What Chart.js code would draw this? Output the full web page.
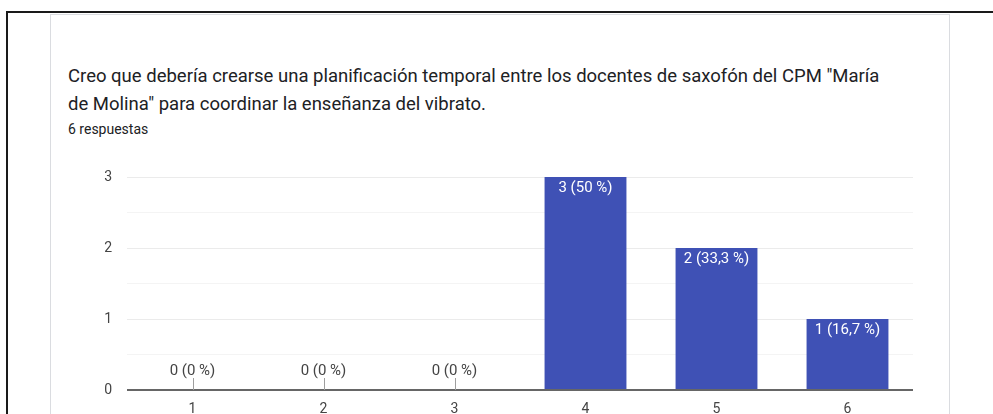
<!DOCTYPE html>
<html>
<head>
<meta charset="utf-8">
<script src="https://cdn.jsdelivr.net/npm/chart.js@4.4.1/dist/chart.umd.min.js"></script>
<style>
    html, body { margin: 0; padding: 0; background: #fff; width: 993px; height: 414px; overflow: hidden; font-family: Roboto, "Noto Sans", sans-serif; }
    .frame { position: absolute; left: 6px; top: 11px; width: 1100px; height: 500px; border-top: 2px solid #1a1a1a; border-left: 2px solid #1a1a1a; }
    .card { position: absolute; left: 50px; top: 14px; width: 898px; height: 500px; border: 1px solid #dadce0; background: #fff; }
    .title { position: absolute; left: 68px; top: 62px; font-size: 18.5px; line-height: 28px; color: #202124; white-space: nowrap; }
    .count { position: absolute; left: 68px; top: 121px; font-size: 14px; color: #202124; }
    .chart-box { position: absolute; left: 60px; top: 160px; width: 870px; height: 254px; }
</style>
</head>
<body>
<div class="frame"></div>
<div class="card"></div>
<div class="title">Creo que debería crearse una planificación temporal entre los docentes de saxofón del CPM "María<br>de Molina" para coordinar la enseñanza del vibrato.</div>
<div class="count">6 respuestas</div>
<div class="chart-box"><canvas id="vibrato-chart"></canvas></div>

<script>
    const categories = ['1', '2', '3', '4', '5', '6'];
    const answers = [0, 0, 0, 3, 2, 1];
    const yTicks = [0, 1, 2, 3];

    const total = answers.reduce((a, b) => a + b, 0);

    function pctText(v) {
        let p = total ? v / total * 100 : 0;
        let s = Number.isInteger(p) ? String(p) : p.toFixed(1).replace('.', ',');
        return v + ' (' + s + ' %)';
    }

    // value labels: white inside the bar top, or gray with a small stem for empty bars
    const barLabels = {
        id: 'barLabels',
        afterDatasetsDraw(chart) {
            const ctx = chart.ctx;
            const meta = chart.getDatasetMeta(0);
            const yScale = chart.scales.y;
            const base = yScale.getPixelForValue(0);
            ctx.save();
            ctx.font = '15px Roboto';
            ctx.textAlign = 'center';
            ctx.textBaseline = 'middle';
            meta.data.forEach((bar, i) => {
                const v = answers[i];
                if (v > 0) {
                    ctx.fillStyle = '#ffffff';
                    ctx.fillText(pctText(v), bar.x, bar.y + 11);
                } else {
                    ctx.strokeStyle = '#9e9e9e';
                    ctx.lineWidth = 1;
                    ctx.beginPath();
                    ctx.moveTo(Math.round(bar.x) + 0.5, base);
                    ctx.lineTo(Math.round(bar.x) + 0.5, base - 12);
                    ctx.stroke();
                    ctx.fillStyle = '#444';
                    ctx.fillText(pctText(v), bar.x, base - 19);
                }
            });
            ctx.restore();
        }
    };

    var config = {
        type: 'bar',
        data: {
            labels: categories,
            datasets: [{
                data: answers,
                backgroundColor: '#3f51b5',
                borderWidth: 0,
                categoryPercentage: 1,
                barPercentage: 0.625
            }]
        },
        options: {
            responsive: true,
            maintainAspectRatio: false,
            animation: false,
            layout: { padding: { top: 17, right: 17, left: 0, bottom: 0 } },
            plugins: {
                legend: { display: false },
                tooltip: { enabled: false }
            },
            scales: {
                x: {
                    grid: { display: false, drawTicks: false },
                    border: { display: false },
                    ticks: { color: '#444', font: { family: 'Roboto', size: 14 }, padding: 11 },
                    afterFit(scale) { scale.height = 24; }
                },
                y: {
                    min: 0,
                    max: 3,
                    afterBuildTicks(scale) {
                        scale.ticks = [0, 0.5, 1, 1.5, 2, 2.5, 3].map(v => ({ value: v }));
                    },
                    afterFit(scale) {
                        scale.width = 67;
                        scale.paddingTop = 0;
                        scale.paddingBottom = 0;
                    },
                    border: { display: false },
                    grid: {
                        drawTicks: false,
                        color(c) {
                            if (c.tick.value === 0) return '#666';
                            return Number.isInteger(c.tick.value) ? '#ebebeb' : '#f4f4f4';
                        },
                        lineWidth(c) { return c.tick.value === 0 ? 2 : 1; }
                    },
                    ticks: {
                        color: '#444',
                        font: { family: 'Roboto', size: 14 },
                        padding: 15,
                        callback(v) { return yTicks.includes(v) ? String(v) : ''; }
                    }
                }
            }
        },
        plugins: [barLabels]
    };

    var ctx = document.getElementById('vibrato-chart').getContext('2d');
    window.vibratoChart = new Chart(ctx, config);
</script>
</body>
</html>
